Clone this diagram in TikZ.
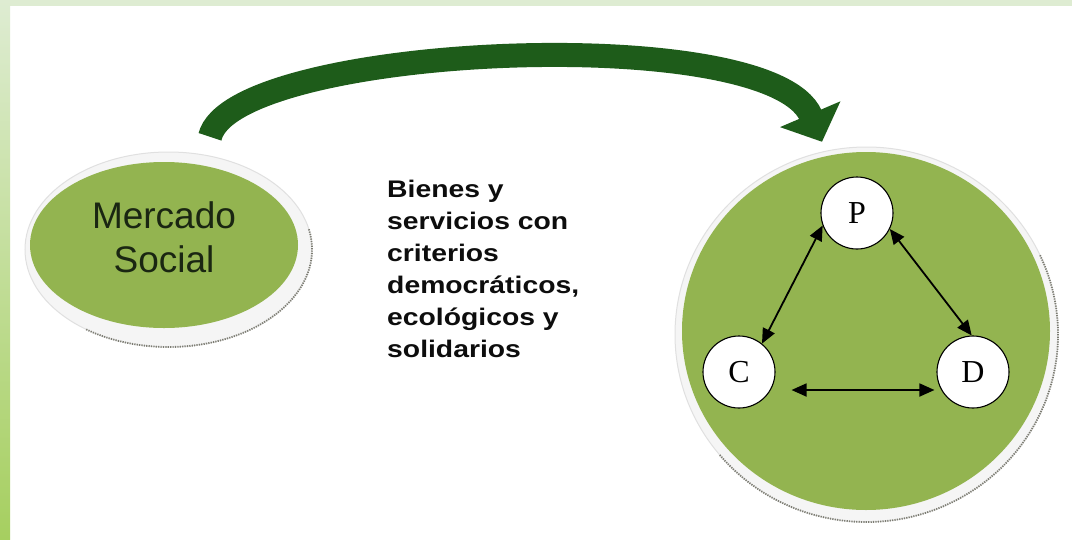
\documentclass[tikz,border=0pt]{standalone}
\usepackage{fontspec}
\setmainfont{Liberation Serif}
\newfontfamily\arialfont{Liberation Sans}
\newfontfamily\widefont[FakeStretch=1.18]{Liberation Sans}
\usetikzlibrary{arrows.meta,shapes.geometric,positioning}
\definecolor{leafgreen}{RGB}{147,180,80}
\definecolor{arrowgreen}{RGB}{30,92,26}
\definecolor{framegreen}{RGB}{222,236,210}
\definecolor{stripgreen}{RGB}{166,207,96}
\definecolor{rimgray}{RGB}{125,125,115}
\definecolor{textdark}{RGB}{26,38,18}
\begin{document}
\begin{tikzpicture}[x=1pt, y=-1pt,
  green disc/.style={ellipse, fill=leafgreen, inner sep=0pt},
  rim/.style={ellipse, fill=white!96!black, draw=black!12, line width=1pt, inner sep=0pt},
  rimedge/.style={draw=rimgray, line width=1.8pt, dash pattern=on 1.2pt off 1.2pt},
  agent/.style={circle, draw, fill=white, line width=1.1pt, minimum size=72pt, inner sep=0pt, font=\fontsize{32}{32}\selectfont},
  link/.style={<->, >={Triangle[length=15pt,width=13pt]}, line width=1.8pt},
  bigarrow/.style={draw=arrowgreen, line width=24pt, -{Triangle[length=30pt,width=64pt]}}]
\useasboundingbox (0,0) rectangle (1072,539);
\fill[white] (0,0) rectangle (1072,539);
\fill[framegreen] (0,0) rectangle (1072,6);
\shade[top color=framegreen, bottom color=stripgreen] (0,0) rectangle (10,539);
% left: the market
\node (msrim)[rim, minimum width=287pt, minimum height=195pt] at (168.5,249.5) {};
\draw[rimedge] (msrim.center) ++(-12:143.5 and 97.5) arc[start angle=-12, end angle=125, x radius=143.5, y radius=97.5];
\node (ms)[green disc, minimum width=268pt, minimum height=166pt] at (164,245) {};
\node (mstext)[align=center, text=textdark, font=\arialfont\fontsize{37}{44}\selectfont] at ([yshift=8pt]ms.center) {Mercado\\Social};
% right: P, C, D
\node (bigrim)[rim, minimum width=383pt, minimum height=375pt] at (866.5,334.5) {};
\draw[rimedge] (bigrim.center) ++(-25:191.5 and 187.5) arc[start angle=-25, end angle=140, x radius=191.5, y radius=187.5];
\node (big)[green disc, minimum width=368pt, minimum height=358pt] at (866,331) {};
\node (P)[agent] at (857,213) {P};
\node (C)[agent] at (739,372) {C};
\node (D)[agent] at (973,372) {D};
\draw[link] (P.200) -- (C.51);
\draw[link] (P.334) -- (D.92);
\draw[link] ([xshift=16pt,yshift=-18pt]C.east) -- ([xshift=-2pt,yshift=-18pt]D.west);
% the flow
\draw[bigarrow] ([xshift=46pt,yshift=25pt]ms.north) .. controls (232,45) and (770,20) .. ([xshift=-44pt,yshift=10pt]big.north);
\node (goods)[anchor=north west, align=left, inner sep=0pt, text=black!95, font=\widefont\bfseries\fontsize{24}{32}\selectfont] at (387,180) {Bienes y\\servicios con\\criterios\\democráticos,\\ecológicos y\\solidarios};
\end{tikzpicture}
\end{document}
